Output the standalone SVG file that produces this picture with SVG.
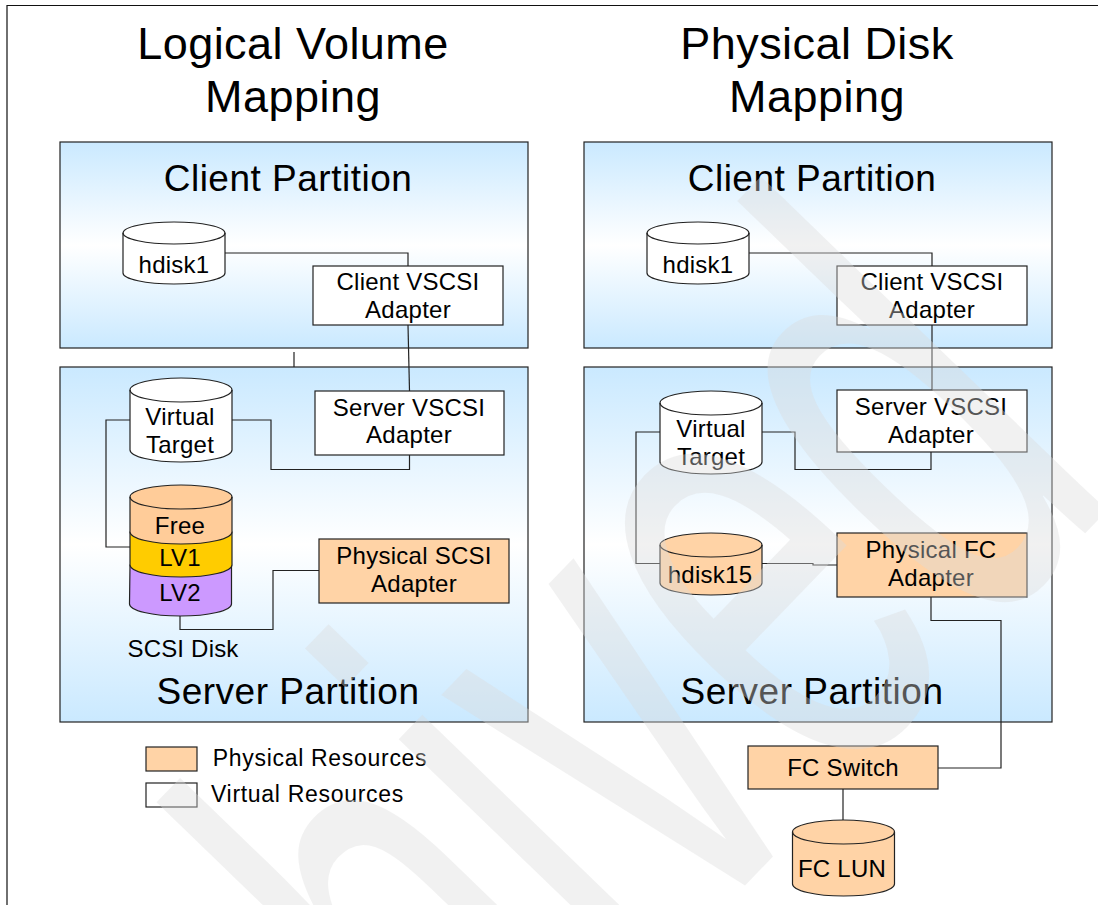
<svg xmlns="http://www.w3.org/2000/svg" width="1098" height="905" viewBox="0 0 1098 905">
<style>
text{font-family:"Liberation Sans",Arial,sans-serif;fill:#000;text-anchor:middle}
.t{font-size:45px;letter-spacing:.45px}.p{font-size:37px;letter-spacing:.5px}.n{font-size:24px;letter-spacing:.25px}
.l{font-size:23px;letter-spacing:.7px}
.part{fill:url(#g);stroke:#222;stroke-width:1.2}
.box{stroke:#222;stroke-width:1.2}
.w{fill:#fff}.o{fill:#ffd3a6}.cy{stroke:#222;stroke-width:1.2}
.c{fill:none;stroke:#222;stroke-width:1.2}
#watermark text{font-size:386px;fill:#dadada;fill-opacity:.39;text-anchor:end;letter-spacing:0}
</style>
<defs>
<linearGradient id="g" x1="0" y1="0" x2="0" y2="1"><stop offset="0" stop-color="#cae9ff"/><stop offset=".5" stop-color="#fff"/><stop offset="1" stop-color="#cae9ff"/></linearGradient>
</defs>
<rect x="0" y="0" width="1098" height="905" fill="#fff"/>
<path d="M7 905V5.500H1098" fill="none" stroke="#111" stroke-width="1.200"/>
<text class="t" x="293" y="59">Logical Volume</text><text class="t" x="293" y="112">Mapping</text>
<text class="t" x="817" y="59">Physical Disk</text><text class="t" x="817" y="112">Mapping</text>
<g id="client-left"><rect class="part" x="60" y="142" width="468" height="206"/><text class="p" x="288" y="191">Client Partition</text></g>
<g id="server-left"><rect class="part" x="60" y="367" width="468" height="355"/><text class="p" x="288" y="704">Server Partition</text></g>
<g id="client-right"><rect class="part" x="584" y="142" width="468" height="206"/><text class="p" x="812" y="191">Client Partition</text></g>
<g id="server-right"><rect class="part" x="584" y="367" width="468" height="355"/><text class="p" x="812" y="704">Server Partition</text></g>
<g id="connectors">
<path class="c" d="M294 352V367"/>
<path class="c" d="M224 253H408V266"/><path class="c" d="M408 325L409.500 391"/>
<path class="c" d="M130 420H106V547H130"/><path class="c" d="M231 420H271V469.500H409.500V455"/>
<path class="c" d="M180 615V629.500H273V570.500H319"/>
<path class="c" d="M748 253H932V266"/><path class="c" d="M932 325V391"/>
<path class="c" d="M660 432H636V563.500H660"/><path class="c" d="M762 432H795V469.500H931V452"/>
<path class="c" d="M762 563.500H813V565H837"/><path class="c" d="M931 597V620.500H1001V768H938"/><path class="c" d="M843 789V821"/>
</g>
<g id="hdisk1-left"><path class="cy w" d="M123 233a51 11 0 0 1 102 0V273a51 11 0 0 1-102 0Z"/><path class="cy" fill="none" d="M123 233a51 11 0 0 0 102 0"/><text class="n" x="174" y="273">hdisk1</text></g>
<g id="client-adapter-left"><rect class="box w" x="313" y="266" width="190" height="59"/><text class="n" x="408" y="290">Client VSCSI</text><text class="n" x="408" y="318">Adapter</text></g>
<g id="virtual-target-left"><path class="cy w" d="M130 390a51 12 0 0 1 102 0V450a51 12 0 0 1-102 0Z"/><path class="cy" fill="none" d="M130 390a51 12 0 0 0 102 0"/><text class="n" x="180" y="425">Virtual</text><text class="n" x="180" y="453">Target</text></g>
<g id="server-adapter-left"><rect class="box w" x="315" y="391" width="189" height="64"/><text class="n" x="409" y="416">Server VSCSI</text><text class="n" x="409" y="443">Adapter</text></g>
<g id="scsi-disk">
<path class="cy" fill="#cc99ff" d="M130 565H231.500V604a51 12 0 0 1-102 0Z"/>
<path class="cy" fill="#ffcc00" d="M130 532H232V565a51 12 0 0 1-102 0Z"/>
<path class="cy" fill="#ffcc99" d="M130 497a51 12 0 0 1 102 0V532a51 12 0 0 1-102 0Z"/>
<path class="cy" fill="none" d="M130 497a51 12 0 0 0 102 0"/>
<text class="n" x="180" y="534">Free</text><text class="n" x="180" y="566">LV1</text><text class="n" x="180" y="601">LV2</text>
<text style="font-size:24px;letter-spacing:.2px" x="183" y="657">SCSI Disk</text></g>
<g id="physical-scsi"><rect class="box o" x="319" y="539" width="190" height="64"/><text class="n" x="414" y="564">Physical SCSI</text><text class="n" x="414" y="592">Adapter</text></g>
<g id="hdisk1-right"><path class="cy w" d="M647 233a51 11 0 0 1 102 0V273a51 11 0 0 1-102 0Z"/><path class="cy" fill="none" d="M647 233a51 11 0 0 0 102 0"/><text class="n" x="698" y="273">hdisk1</text></g>
<g id="client-adapter-right"><rect class="box w" x="837" y="266" width="190" height="59"/><text class="n" x="932" y="290">Client VSCSI</text><text class="n" x="932" y="318">Adapter</text></g>
<g id="virtual-target-right"><path class="cy w" d="M660 403a51 12 0 0 1 102 0V462a51 12 0 0 1-102 0Z"/><path class="cy" fill="none" d="M660 403a51 12 0 0 0 102 0"/><text class="n" x="711" y="437">Virtual</text><text class="n" x="711" y="465">Target</text></g>
<g id="server-adapter-right"><rect class="box w" x="837" y="390" width="190" height="62"/><text class="n" x="931" y="415">Server VSCSI</text><text class="n" x="931" y="443">Adapter</text></g>
<g id="hdisk15"><path class="cy o" d="M660 545a51 12 0 0 1 102 0V583a51 12 0 0 1-102 0Z"/><path class="cy" fill="none" d="M660 545a51 12 0 0 0 102 0"/><text class="n" x="710" y="583">hdisk15</text></g>
<g id="physical-fc"><rect class="box o" x="837" y="533" width="190" height="64"/><text class="n" x="931" y="558">Physical FC</text><text class="n" x="931" y="586">Adapter</text></g>
<g id="fc-switch"><rect class="box o" x="748" y="746" width="190" height="43"/><text class="n" x="843" y="776">FC Switch</text></g>
<g id="fc-lun"><path class="cy o" d="M792.500 832a51 12 0 0 1 102 0V884a51 12 0 0 1-102 0Z"/><path class="cy" fill="none" d="M792.500 832a51 12 0 0 0 102 0"/><text class="n" x="842" y="877">FC LUN</text></g>
<g id="legend"><rect class="box o" x="146" y="747" width="51" height="24"/><text class="l" x="320" y="766">Physical Resources</text><rect class="box w" x="146" y="783" width="51" height="24"/><text class="l" x="307.500" y="802">Virtual Resources</text></g>
<g id="watermark"><text transform="translate(1125 492) rotate(-46) scale(1 1.72)">Archived</text></g>
</svg>
